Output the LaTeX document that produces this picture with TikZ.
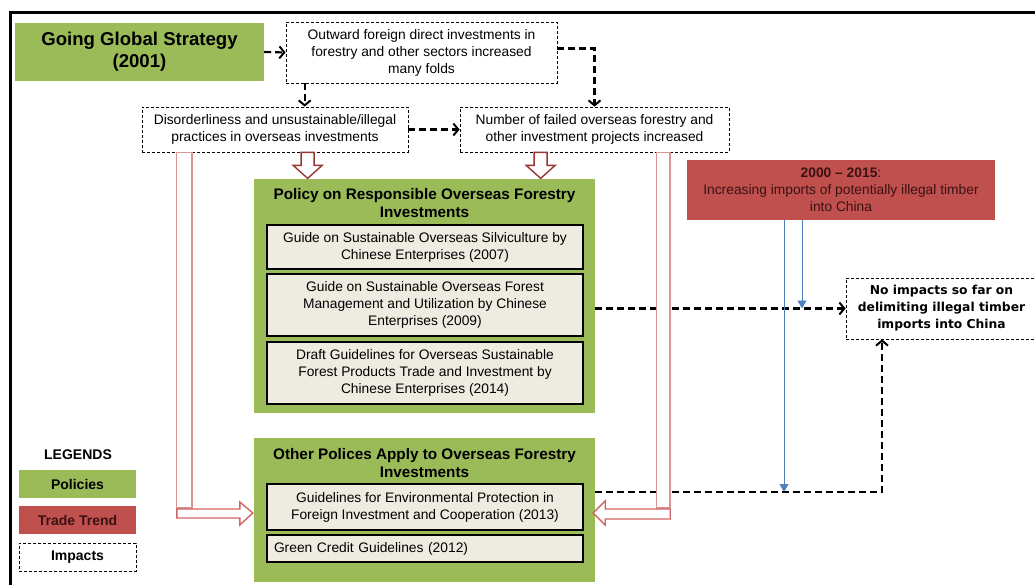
\documentclass[tikz,border=0pt]{standalone}
\usepackage{fontspec}
\setmainfont{Liberation Sans}
\newfontfamily\impactfont{DejaVu Sans}
\usetikzlibrary{positioning,arrows.meta,calc}
\definecolor{policygreen}{HTML}{9BBB59}
\definecolor{tradered}{HTML}{C0504D}
\definecolor{guidebeige}{HTML}{EEECE1}
\definecolor{hollowpink}{HTML}{D99694}
\definecolor{hollowred}{HTML}{D26563}
\definecolor{hollowdark}{HTML}{953735}
\definecolor{trendblue}{HTML}{4F81BD}
\definecolor{trendtext}{HTML}{3A1212}
\tikzset{
  policy/.style={fill=policygreen, inner sep=0pt, align=center},
  impact/.style={draw, line width=0.7pt, dash pattern=on 3pt off 2pt, fill=white,
    inner sep=0pt, align=center, font=\fontsize{13.8}{17}\selectfont},
  guide/.style={draw, line width=2.4pt, fill=guidebeige, minimum width=316pt,
    inner sep=0pt, align=center, font=\fontsize{13.8}{17}\selectfont},
  boxtitle/.style={align=center, font=\fontsize{15.3}{18}\selectfont\bfseries},
  legtext/.style={font=\fontsize{14}{15}\selectfont\bfseries},
  flow/.style={-{Straight Barb[length=5pt,width=12pt,line width=2pt]}, line width=2.2pt,
    dash pattern=on 7pt off 4pt},
  hollowbar/.style={draw=hollowpink, line width=1.6pt, fill=white},
  hollowhead/.style={draw=hollowred, line width=1.4pt, fill=white, line join=miter},
  trendline/.style={-{Triangle[length=8pt,width=9pt]}, draw=trendblue, line width=0.9pt},
  pics/downblk/.style={code={
    \draw[draw=hollowdark, line width=1.4pt, fill=white]
      (-6.5,0) -- (6.5,0) -- (6.5,13) -- (14.5,13) -- (0,26) -- (-14.5,13) -- (-6.5,13) -- cycle;}},
}
\begin{document}
\begin{tikzpicture}[x=1pt, y=-1pt]
\useasboundingbox (0,0) rectangle (1035,584);

% frame
\draw[line width=3pt] (10,586) -- (10,12) -- (1037,12);

% top row
\node[policy, minimum width=249pt, minimum height=58pt,
  font=\fontsize{18.6}{22}\selectfont\bfseries] (ggs) at (139.5,52)
  {Going Global Strategy\\(2001)};
\node[impact, minimum width=271pt, minimum height=61pt] (fdi) at (421.5,52.5)
  {Outward foreign direct investments in\\forestry and other sectors increased\\many folds};
\node[impact, minimum width=266pt, minimum height=45pt] (disorder) at (275,129.5)
  {Disorderliness and unsustainable/illegal\\practices in overseas investments};
\node[impact, minimum width=269pt, minimum height=45pt] (failed) at (594.5,129.5)
  {Number of failed overseas forestry and\\other investment projects increased};

% policy boxes
\node[policy, minimum width=341pt, minimum height=234pt] (respons) at (424.5,296) {};
\node[boxtitle] (resptitle) at (424.5,203)
  {Policy on Responsible Overseas Forestry\\Investments};
\node[guide, minimum height=44pt] (silvi) at (425,247)
  {Guide on Sustainable Overseas Silviculture by\\Chinese Enterprises (2007)};
\node[guide, minimum height=62pt] (fmu) at (425,305)
  {Guide on Sustainable Overseas Forest\\Management and Utilization by Chinese\\Enterprises (2009)};
\node[guide, minimum height=62pt] (draft) at (425,373)
  {Draft Guidelines for Overseas Sustainable\\Forest Products Trade and Investment by\\Chinese Enterprises (2014)};

\node[policy, minimum width=341pt, minimum height=144pt] (other) at (424.5,510) {};
\node[boxtitle] (othertitle) at (424.5,463)
  {Other Polices Apply to Overseas Forestry\\Investments};
\node[guide, minimum height=46pt] (envprot) at (425,507)
  {Guidelines for Environmental Protection in\\Foreign Investment and Cooperation (2013)};
\node[guide, minimum height=27pt, text width=302pt, align=left] (greencredit) at (425,548.5)
  {Green Credit Guidelines (2012)};

% trade trend and impact
\node[fill=tradered, minimum width=308pt, minimum height=60pt, inner sep=0pt, align=center,
  text=trendtext, font=\fontsize{13.8}{17}\selectfont] (trend) at (841,190)
  {\textbf{2000 -- 2015}:\\Increasing imports of potentially illegal timber\\into China};
\node[impact, minimum width=191pt, minimum height=61pt,
  font=\impactfont\fontsize{12.3}{17}\selectfont\bfseries] (noimp) at (941.5,308.5)
  {No impacts so far on\\delimiting illegal timber\\imports into China};

% legend
\node[legtext] (leghead) at (78,455) {LEGENDS};
\node[policy, minimum width=117pt, minimum height=28pt, legtext] (legpol) at (77.5,484) {Policies};
\node[fill=tradered, minimum width=117pt, minimum height=28pt, inner sep=0pt,
  text=trendtext, legtext] (legtrade) at (77.5,520) {Trade Trend};
\node[impact, minimum width=117pt, minimum height=28pt, legtext] (legimp) at (77.5,557) {Impacts};

% dashed flows
\draw[flow] (ggs.east) -- (fdi.west);
\coordinate (fdidrop) at ($(fdi.south west)+(19,0)$);
\draw[flow] (fdidrop) -- (fdidrop |- disorder.north);
\draw[flow] ($(fdi.east)+(0,-4)$) -| (failed.north);
\draw[flow] (disorder.east) -- (failed.west);
\draw[flow] (respons.east |- noimp.west) -- (noimp.west);
\coordinate (corner) at (882,492);
\draw[flow] (other.east |- corner) -- (corner) -- (corner |- noimp.south);

% hollow arrows
\pic at ($(disorder.south west)+(166,0)$) {downblk};
\pic at ($(failed.south west)+(81,0)$) {downblk};
\coordinate (ltip) at ($(other.west)+(-1,3)$);
\draw[hollowbar] ($(disorder.south west)+(35,0)$) rectangle ($(ltip)+(-61,-5)$);
\draw[hollowhead] (ltip) -- ++(-13,-11) -- ++(0,7) -- ++(-63,0) -- ++(0,9)
  -- ++(63,0) -- ++(0,7) -- cycle;
\coordinate (rtip) at ($(other.east)+(-2,3)$);
\draw[hollowbar] ($(failed.south west)+(197,0)$) rectangle ($(rtip)+(77,-5)$);
\draw[hollowhead] (rtip) -- ++(12,-12) -- ++(0,8) -- ++(65,0) -- ++(0,10)
  -- ++(-65,0) -- ++(0,6) -- cycle;

% trade trend lines
\coordinate (trendlow) at ($(trend.south)+(-57,0)$);
\coordinate (trendhigh) at ($(trend.south)+(-39,0)$);
\draw[trendline] (trendlow) -- (trendlow |- corner);
\draw[trendline] (trendhigh) -- (trendhigh |- noimp.west);
\end{tikzpicture}
\end{document}
